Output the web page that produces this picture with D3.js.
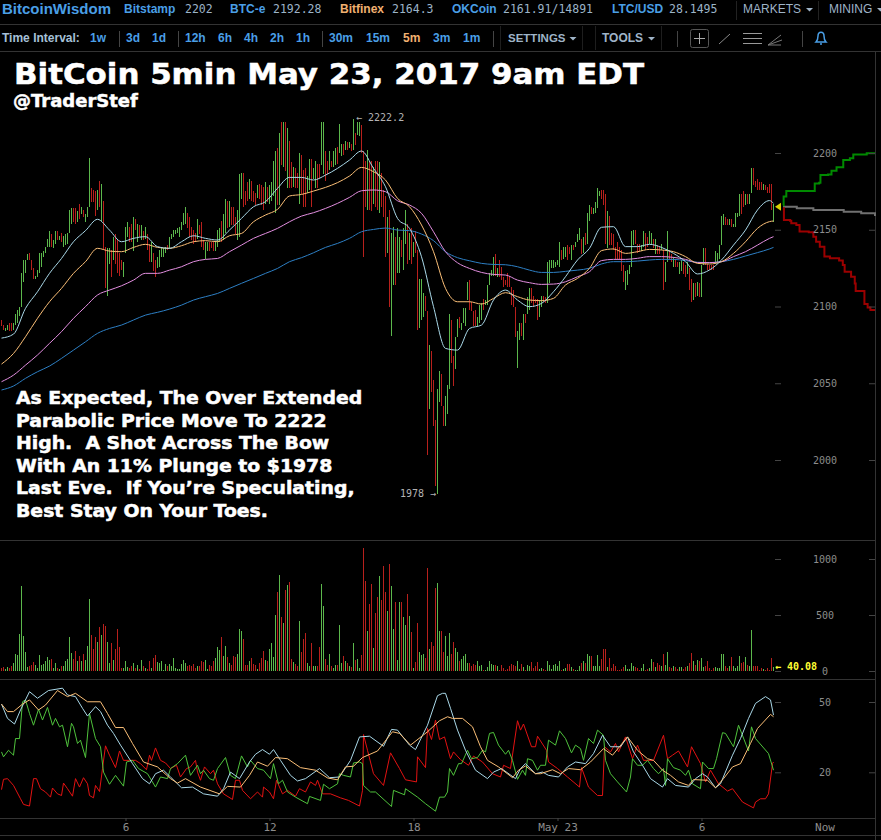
<!DOCTYPE html>
<html>
<head>
<meta charset="utf-8">
<script src="https://cdn.jsdelivr.net/npm/d3@7"></script>
<style>
body { margin: 0; background: #000; }
svg { display: block; }
text { white-space: pre; }
.mono { font-family: "DejaVu Sans Mono", monospace; }
.sans { font-family: "Liberation Sans", Arial, sans-serif; }
.big { font-family: "DejaVu Sans", Verdana, sans-serif; font-weight: bold; fill: #fff; stroke: #fff; stroke-width: 0.5px; }
.axis line { stroke: #444; }
.axis path { display: none; }
.axis text { fill: #8c8c8c; font-family: "DejaVu Sans Mono", monospace; font-size: 10px; }
</style>
</head>
<body>
<svg width="881" height="840"></svg>
<script>
// candle high / low in USD, one pair per 5min bar
var candleHigh = [
  2091,2088,2086,2088,2089,2089,2089,2095,2098,2100,2122,2130,2130,2134,2135,2130,2125,2120,2124,2135,
  2135,2136,2139,2144,2149,2147,2143,2149,2149,2146,2148,2146,2147,2148,2163,2164,2164,2164,2162,2167,
  2165,2163,2160,2165,2196.5,2177,2176,2175,2176,2182,2180,2169,2139,2138,2138,2137,2145,2147,2144,2135,
  2130,2129,2152,2155,2152,2154,2158,2157,2154,2153,2153,2149,2152,2147,2141,2142,2135,2130,2132,2137,
  2139,2138,2139,2140,2145,2147,2150,2150,2151,2152,2155,2161,2165,2161,2158,2152,2150,2148,2157,2153,
  2155,2143,2142,2142,2142,2142,2142,2142,2150,2151,2156,2160,2170,2169,2169,2165,2165,2158,2163,2186,
  2187,2187,2175,2181,2183,2182,2175,2174,2179,2180,2179,2178,2181,2178,2179,2181,2195,2201,2203,2213,
  2220,2220,2220,2216,2208,2194,2191,2190,2187,2200,2199,2189,2190,2185,2196,2196,2190,2195,2193,2193,
  2220,2220,2201,2195,2201,2195,2201,2203,2204,2219,2206,2206,2208,2207,2207,2206,2222.2,2213,2220,2220,
  2218,2201,2195,2202,2195,2195,2191,2195,2195,2194,2187,2176,2172,2158,2163,2148,2152,2145,2151,2145,
  2143,2151,2163,2154,2148,2151,2142,2149,2137,2118,2118,2109,2107,2097,2075,2071,2052,2026,2046,2058,
  2056,2035,2042,2049,2095,2091,2068,2080,2092,2093,2089,2099,2099,2116,2117,2103,2097,2098,2093,2101,
  2102,2105,2104,2114,2122,2124,2132,2134,2125,2130,2126,2119,2117,2122,2120,2113,2111,2100,2084,2089,
  2089,2095,2095,2106,2112,2112,2107,2105,2105,2104,2107,2107,2106,2129,2130,2130,2130,2129,2130,2142,
  2137,2139,2139,2140,2139,2140,2140,2142,2147,2151,2144,2145,2148,2161,2166,2165,2164,2168,2177,2175,
  2176,2176,2173,2162,2159,2148,2147,2139,2142,2139,2137,2127,2123,2124,2127,2149,2150,2150,2141,2141,
  2140,2149,2148,2145,2149,2148,2144,2144,2140,2139,2141,2137,2129,2149,2137,2134,2132,2131,2129,2129,
  2130,2129,2127,2129,2125,2118,2115,2115,2116,2115,2127,2138,2138,2128,2127,2127,2127,2136,2135,2140,
  2159,2160,2158,2157,2157,2157,2154,2161,2161,2173,2173,2175,2173,2173,2173,2190,2190,2182,2183,2181,
  2181,2180,2179,2178,2180,2180,2167
];
var candleLow = [
  2087,2085,2084,2085,2084,2084,2085,2088,2089,2094,2100,2116,2122,2130,2130,2124,2118,2118,2119,2122,
  2126,2132,2135,2139,2139,2139,2138,2141,2143,2143,2142,2139,2140,2141,2148,2154,2155,2154,2155,2157,
  2160,2158,2155,2158,2165,2168,2168,2159,2163,2165,2156,2137,2112,2107,2128,2119,2130,2128,2122,2120,
  2124,2119,2135,2145,2142,2142,2136,2150,2142,2145,2143,2143,2144,2137,2129,2129,2123,2119,2125,2126,
  2132,2132,2135,2137,2138,2144,2145,2147,2148,2145,2150,2153,2154,2151,2145,2143,2141,2142,2144,2147,
  2139,2137,2131,2136,2136,2138,2136,2136,2139,2142,2142,2143,2148,2151,2152,2153,2153,2147,2143,2145,
  2170,2165,2166,2169,2170,2169,2168,2166,2171,2170,2166,2163,2167,2168,2167,2169,2172,2161,2166,2166,
  2192,2191,2188,2177,2177,2177,2178,2177,2177,2167,2173,2165,2165,2174,2176,2165,2183,2177,2177,2183,
  2192,2186,2182,2186,2189,2191,2191,2192,2193,2200,2198,2199,2202,2202,2203,2201,2202,2205,2212,2211,
  2200,2132,2165,2163,2163,2162,2167,2165,2163,2161,2165,2158,2132,2135,2100,2081,2114,2114,2122,2122,
  2132,2124,2141,2128,2130,2128,2132,2135,2085,2086,2091,2093,2097,2003,2033,2044,2022,1983,1978,2038,
  2035,2022,2022,2030,2046,2063,2048,2059,2080,2086,2085,2089,2087,2104,2098,2097,2087,2087,2087,2089,
  2091,2098,2101,2101,2114,2120,2120,2120,2119,2119,2117,2113,2114,2113,2113,2101,2100,2080,2060,2078,
  2081,2078,2089,2095,2098,2102,2100,2102,2091,2093,2100,2103,2102,2102,2115,2125,2125,2126,2127,2126,
  2130,2131,2132,2130,2134,2130,2137,2139,2142,2143,2134,2135,2140,2141,2156,2160,2160,2161,2164,2172,
  2170,2166,2141,2138,2140,2140,2137,2131,2131,2131,2123,2116,2111,2114,2121,2126,2140,2141,2135,2136,
  2136,2139,2137,2139,2141,2140,2138,2134,2134,2134,2137,2111,2116,2129,2131,2129,2126,2126,2126,2121,
  2123,2121,2119,2121,2111,2103,2104,2106,2107,2106,2106,2127,2127,2124,2124,2124,2124,2128,2129,2131,
  2140,2153,2153,2153,2153,2152,2152,2152,2158,2159,2160,2165,2166,2167,2167,2174,2179,2178,2176,2176,
  2176,2176,2176,2174,2174,2163,2155
];
// g = up bar, r = down bar (same for candles and volume)
var candleDir = (
  "rrggrrgggg" + "ggggrrrggg" + "gggggrggrg" + "rgggggrrgr" + "grgggrrrgr" +
  "grrggrgrrr" + "rgggrrgrgr" + "grgrrgrrgg" + "gggrgggggg" + "gggrrrrrgr" +
  "rrggrrrggg" + "rggrgrrrgg" + "grrrgrrrgr" + "rrgrggggrg" + "rgrgrrgrrg" +
  "rrrggrggrr" + "ggrrgrggrg" + "grgrgrgrgg" + "rrrgrrgrrg" + "rrrgrggrgg" +
  "rggrgrgrrg" + "ggrrgrrrgg" + "rrgggrrggr" + "ggggrrrrgg" + "grgggggrgr" +
  "rrrrrrrrgg" + "rgrggrrrrg" + "grrggggggg" + "rggrrgrggg" + "rgrggrgggg" +
  "rrrgrrrrrr" + "rrgggggrrr" + "ggrrggrgrr" + "grggrrgrrg" + "grrgrrgrgr" +
  "ggrrrrrggg" + "ggrrgrgggg" + "rrgrggrrrr" + "rgrrrrg"
).split("");
var volume = [
  30,36,18,36,30,42,72,150,144,330,759,315,168,36,42,54,84,54,24,144,
  54,60,90,126,96,111,24,72,30,15,42,48,90,108,300,162,108,180,90,135,
  90,156,102,222,639,324,198,300,258,390,324,420,402,258,72,246,96,192,372,216,
  30,24,90,36,30,48,72,24,54,15,96,42,24,18,90,24,120,144,78,72,
  90,12,60,42,60,45,114,30,18,15,60,96,72,42,54,48,66,30,42,48,
  90,84,96,15,54,48,90,114,216,186,300,132,222,126,72,54,132,126,150,372,
  354,282,54,54,90,120,66,54,18,72,120,180,96,90,198,252,126,504,708,855,
  480,432,720,765,798,108,84,60,48,444,168,282,336,72,42,246,42,42,42,216,
  774,576,108,54,150,48,24,54,54,414,72,132,90,72,42,36,252,102,108,30,
  144,1095,804,360,600,774,204,516,660,846,636,939,708,540,957,756,375,615,96,612,
  615,486,414,687,495,345,24,78,426,168,144,150,120,924,198,255,225,744,783,360,
  354,168,315,135,336,156,255,204,174,90,108,138,156,72,72,42,60,54,90,42,
  54,6,6,36,90,66,54,54,42,6,54,30,6,18,42,66,54,48,90,18,
  66,36,12,54,42,78,24,48,78,18,24,18,12,90,54,15,54,60,45,90,
  12,15,30,60,60,36,18,12,12,42,72,90,72,150,138,132,42,42,144,48,
  108,192,192,36,120,30,66,42,12,12,18,36,54,18,18,72,42,36,30,12,
  24,66,6,18,30,108,84,36,75,54,48,156,54,174,36,30,45,36,18,36,
  36,15,36,45,75,165,90,54,102,90,120,36,45,90,24,12,30,36,24,30,
  150,150,42,30,42,126,42,24,42,132,72,78,126,54,42,366,48,42,48,12,
  24,18,12,30,12,120,40.08
];

// moving averages, sampled every 6th bar (and the last bar)
var maBars = d3.range(0, 385, 6).concat([386]);
var maWhite = [2079.4,2082,2098.8,2109.6,2121.6,2131.3,2142.2,2149.4,2156.8,2149.8,2142.2,2144.4,2145.5,2139,2137.9,2142.2,2146.1,2144.4,2143.3,2149.8,2157.4,2165,2168.3,2177,2184.1,
  2184.1,2182.4,2185.6,2190,2195.4,2201.3,2190,2178,2157.4,2150.9,2132.4,2099.9,2072.7,2071.6,2085.7,2087.9,2104.2,2110.7,2104.2,2099.9,2102,2109.6,2119.4,2130.3,
  2137.9,2151.6,2152,2139,2139,2140.5,2138.5,2134.6,2129.2,2121.2,2123.8,2130.3,2140,2149.8,2162.9,2169,2167.2];
var maOrange = [2062.5,2069.4,2080.3,2092.3,2103.1,2111.8,2121.6,2129.2,2137.9,2136.1,2135.7,2138.5,2140.5,2138.5,2137.9,2139.6,2142.2,2142.9,2142.2,2146.1,2147.6,2155.2,2159.6,2163.3,2172,
  2173,2175.2,2177.6,2180.7,2185,2190.6,2187.8,2182.4,2170.4,2165,2153.1,2135.7,2111.8,2103.1,2103.1,2101.6,2105.3,2109,2106.4,2104.2,2103.8,2105.3,2114,2118.3,
  2124.9,2136.4,2137.5,2134.6,2135.7,2137.2,2136.8,2135.7,2132.5,2128.1,2127.7,2129.2,2134.6,2142.2,2150.9,2155.3,2155.7];
var maPink = [2051,2055.3,2061.8,2068.4,2076,2083.6,2092.3,2099.9,2107.5,2110.7,2113.5,2117.2,2121.6,2121.6,2123.7,2125.9,2129.2,2130.7,2131.3,2135.7,2140,2144.4,2147.6,2150.9,2155.2,
  2158.9,2161.1,2163.9,2167.2,2171.1,2175.4,2175.9,2174.8,2168.9,2166.1,2160.7,2148.7,2135.7,2128.5,2124.8,2122.2,2120.9,2120.5,2117.2,2115.5,2114.4,2114.6,2116.1,2119.4,
  2122.7,2129.9,2130.7,2130.7,2131.4,2132.5,2132.5,2132,2130.7,2128.6,2128.6,2129.2,2132.5,2135.7,2140,2144.4,2145.5];
var maBlue = [2045.6,2048.2,2053.2,2057.5,2061.2,2066.2,2071.6,2077,2082.5,2085.7,2087.9,2091.2,2094.4,2096.2,2098.3,2100.9,2104.2,2106.4,2108.5,2111.8,2115.1,2118.3,2121.6,2124.8,2129.2,
  2131.8,2135,2138.5,2141.1,2144.4,2148.7,2150.2,2151.1,2149.8,2149.4,2147.2,2142.9,2135.7,2131.8,2129.8,2128.1,2127.4,2127.2,2125.9,2123.7,2122.2,2122.2,2122.9,2123.7,
  2124.9,2127.7,2129.2,2129.2,2129.6,2130.3,2130.7,2130.7,2129.9,2128.8,2128.6,2129.2,2130.7,2132.9,2135.1,2137.5,2138.5];

// order book depth, x = share of the depth panel (0-100), y = price
var depthAskX = [0,0.7,3.6,32.7,34.5,39.3,40.7,49,52.7,58.2,65.5,72.7,76.4,91,100];
var depthAsk = [2166,2171.6,2175.3,2175.3,2180.2,2180.7,2185.7,2186,2188.5,2190.7,2195.5,2196.5,2199.1,2199.8,2199.8];
var depthBidX = [0,1,7.6,9,14.5,18,28,33,36,40,45,51,61,65,67,74,78,79,87,88.5,92,95,100];
var depthBid = [2164,2156.4,2155.9,2154.2,2153.1,2148.8,2148.3,2145.5,2142.2,2139,2132.5,2131.4,2129.9,2127,2122.7,2119.4,2115,2110.1,2110.1,2101.6,2099.4,2097.7,2097.7];
var depthMidX = [0,15,33,66,85,100];
var depthMid = [2165,2164,2162.9,2161.8,2160.7,2159];

// lower panel, vertices as [bar, value]
var dmiRed = [[0,12.6],[1,17],[3,17.3],[6,14.4],[9.5,8.7],[11,6.3],[14,5.6],[16,17.3],[17.5,17.3],[19.5,13],[22,11.6],[24.5,9.4],[25.5,13.3],[28,10.8],[30,10.1],[31,15.4],[33,13],[35.5,9.8],[37,17.3],[39,13.7],[41,17.7],[43,15.1],[44,10.1],[46,9.1],[47,14.4],[49,11.8],[50.5,21.6],[52,31.3],[54,27.3],[57,22],[59,29.1],[61,25.1],[64,25.1],[67,25.1],[69.5,23.7],[72.5,21.1],[74,27.3],[75,25.1],[77,30.4],[79.5,25.1],[82,24],[84.5,21.6],[87.5,23],[89.5,18],[92.5,21.6],[94.5,22.3],[97,25.1],[98,20.1],[99.5,16.6],[101.5,22.3],[104.5,19.4],[106,20.9],[108,15.1],[111,10.8],[115.5,8.4],[117,16.6],[119,16.6],[120.5,12.3],[124.5,8.7],[128,11.6],[130.5,9.4],[131,13.7],[134,11.6],[136,8.7],[137.5,16.6],[140.5,10.8],[143,12.3],[147,9.8],[149,13],[152,11.6],[154.5,15.9],[157,14.4],[158,16.6],[160.5,10.8],[164.5,10.8],[169.5,9.1],[173.5,8],[179,5.6],[180.5,12.3],[181,36.1],[183,29.4],[186,19.4],[191,14.4],[194.5,28.3],[199,21.6],[202,16.8],[207.5,15.9],[208,26.6],[212,22],[213,38.7],[215,34],[217,42.3],[219,34],
  [221.5,35.1],[224.5,25.8],[226,28.7],[229.5,25.4],[233.5,23],[236,26.9],[240.5,24.4],[245.5,19.4],[249.5,18],[251,23],[254.5,21.6],[258,42],[259.5,38],[261,40.6],[265,30.9],[267,30.9],[268,35.4],[272.5,29.4],[273.5,24.4],[278,21.6],[283,18],[289,13.7],[290,22],[293.5,13.7],[298,10.1],[300.5,10.1],[301.5,30.9],[304.5,28.7],[307,32.3],[308.5,28.7],[312,35.1],[315.5,25.8],[318,31.6],[321,25.1],[326,25.1],[331,35.8],[333,25.8],[335.5,27.3],[338.5,29.1],[343,22.3],[345,30.9],[349.5,23.7],[352,15.9],[354.5,20.9],[358.5,15.1],[363,12],[365.5,13],[370.5,7.3],[376,4.8],[377,7.3],[379.5,8.7],[382,8.7],[383.5,10.8],[385.5,23.7],[386,24.4]];
var dmiGreen = [[0,28.7],[1,26.6],[3.5,29.4],[6,27.3],[7,34.4],[9,34.4],[10.5,50.1],[12,50.9],[14,45.1],[16,40.1],[18.5,46.9],[20.5,42.3],[23,47.7],[25.5,40.1],[27,43],[29,39.4],[30.5,40.1],[33,30.9],[35,40.9],[36,39.4],[38,32.3],[39.5,33.7],[42,26.3],[44,45.1],[47,34.4],[49.5,30.9],[51,20.1],[54,14.9],[57,18.7],[61,14.1],[62.5,24.4],[65.5,25.1],[68.5,21.6],[73,19.4],[77,13.7],[79.5,18],[83,17.3],[84.5,21.6],[88,23.7],[92,27.3],[94.5,18.7],[98,23],[99.5,19.4],[101,20.9],[104,17.3],[106,16.6],[108,21.6],[112,26.3],[114.5,18.7],[117,17.3],[120,27],[123,22.3],[124.5,25.1],[128,21.6],[131,20.9],[134.5,17.3],[136,23.7],[138.5,15.1],[140.5,16.6],[143,11.6],[147,9.4],[153,6.6],[154,9.7],[159.5,8],[161,14.9],[164,13],[168,15.1],[169,19.4],[171,18.7],[174.5,18],[176,24],[179,24.4],[180.5,23.7],[181,14.4],[184.5,11.6],[187,11.6],[195,5.4],[196,12.3],[201.5,10.4],[202,13],[208,9.4],[212,6.6],[217,3.4],[219,9.4],
  [221.5,9.4],[223,11.6],[224,21.6],[226,18.7],[228.5,23.7],[230,23.7],[233,29.4],[235,25.8],[238,26.3],[240.5,29.4],[242,28.7],[244,36.6],[246,37],[248.5,31.6],[252,27.7],[253.5,29.4],[255.5,25.1],[258,17],[260.5,20.9],[262,18.7],[263,25.8],[265.5,25.1],[268,20.9],[269.5,23],[272,23],[273.5,33.7],[277,31.6],[279,37.7],[282,34.4],[285,28.3],[287,31.6],[289.5,30.1],[291,25.1],[293.5,34.4],[296,32.3],[298,38],[301,35.8],[302,25.1],[304.5,19.4],[308,15.9],[312.5,11.6],[314.5,18],[315.5,25.8],[318,23],[320.5,23],[323,25.1],[326,21.6],[328.5,19.4],[331,21.6],[332,14.4],[333,25.8],[336,22],[339.5,20.9],[342,18.7],[343.5,20.9],[345.5,15.1],[349.5,13],[350.5,24.4],[353.5,21.6],[356,21.6],[357.5,25.8],[360.5,36.9],[362,36.6],[366,30.9],[368.5,40.1],[373.5,29.1],[375,39.4],[377,34.4],[383.5,28],[386,20.9]];
var dmiWhite = [[0,49.1],[3,43],[6.5,40.6],[9.5,46.6],[14,54.4],[18,51.6],[23.5,54.9],[30.5,55.9],[33,53],[37,52.3],[40.5,47.3],[43,44],[47,48],[49.5,45.9],[53,40.1],[56,36.6],[59.5,31.6],[65.5,23.7],[70.5,17.3],[74,15.1],[77,19.4],[81,20.9],[84.5,18],[90,13.4],[95.5,13.7],[101,10.8],[108,9.8],[111,13],[114.5,20.1],[119,17.3],[124,24.4],[127,27.7],[130.5,29.7],[134,27.7],[136,29.7],[139.5,25.1],[144.5,18.7],[148,16.3],[152,17.3],[159,21.6],[164,17.7],[169,18],[174.5,25.1],[179,35.1],[184,35.4],[191,31.1],[195,38.3],[198,38],[204,31.6],[207,29.7],[213,40.1],[218,52.7],
  [220.5,53.7],[222,53.7],[224.5,47.3],[228,38],[232,29.4],[237,20.9],[243,17.3],[246,20.1],[250,21.6],[257,17.3],[259.5,21.6],[262,23.7],[267,19.4],[270.5,20.1],[273.5,18.7],[278.5,18],[283,22.3],[287,24.4],[292,23.7],[296,28],[300.5,35.8],[304.5,30.9],[309.5,30.9],[313,35.1],[316,28.7],[320.5,23],[324.5,17.3],[330.5,13.7],[333,17.3],[337,14.4],[343.5,13.7],[347,17.3],[350.5,19.4],[353,18],[357,13.4],[359.5,15.1],[365.5,27.3],[369.5,34.4],[373.5,43],[377,49.4],[382,52.3],[384.5,50.9],[386,44.4]];
var dmiOrange = [[0,49.1],[3,45.9],[6,45.9],[10.5,49.1],[14,50.9],[18.5,46.6],[22,48.7],[28,54.9],[33,52.3],[37,53.7],[43,50.1],[49.5,50.1],[53,45.1],[57,39.1],[61,39.1],[65.5,32.3],[71,24.4],[78,22.3],[84.5,17.3],[88,15.4],[92,17.3],[99.5,13.7],[109,10.8],[113,14],[119.5,13.7],[124,18.7],[128,24.4],[133,22.6],[137,26.3],[143,25.8],[149.5,22],[157,20.9],[163,17.6],[168,16.8],[172,22.3],[176,22.6],[180.5,26.3],[188,29.1],[195.5,37.3],[199,36.6],[204.5,31.6],[213,37.3],[219,42],
  [223,43.7],[225.5,43],[230.5,43],[235.5,39.4],[239.5,30.9],[243,25.1],[248.5,22.3],[255.5,17.7],[258.5,20.9],[262,22.7],[267,19.4],[269.5,19.4],[275.5,21.1],[279.5,19.4],[283.5,21.6],[289.5,21.1],[294.5,24.4],[301,30.1],[305.5,27.3],[313,35.1],[318,29.4],[323,25.8],[326,25.1],[330.5,20.9],[334.5,18.7],[338.5,15.9],[343.5,14.4],[346,16.9],[353,16.6],[357,13.4],[361,17.3],[365.5,22.3],[369.5,23.7],[374.5,32.3],[378,38.7],[384.5,44.7],[386,43.7]];

var priceTicks = [2200, 2150, 2100, 2050, 2000];
var volTicks = [1000, 500, 0];
var dmiTicks = [50, 20];
var timeTickBars = [62, 134, 206, 278, 350];
var timeTickLabels = ["6", "12", "18", "May 23", "6"];

var titleText = "BitCoin 5min May 23, 2017 9am EDT";
var handleText = "@TraderStef";
var noteLines = [
  "As Expected, The Over Extended",
  "Parabolic Price Move To 2222",
  "High.  A Shot Across The Bow",
  "With An 11% Plunge to $1978",
  "Last Eve.  If You\u2019re Speculating,",
  "Best Stay On Your Toes."
];

var width = 881;
var height = 840;
var svg = d3.select("svg");

var green = "#5cb84c", red = "#b8201c";

// scales
var xBar = d3.scaleLinear().domain([0, 386]).range([1, 773]);
var yPrice = d3.scaleLinear().domain([2000, 2200]).range([460, 153]);
var yVol = d3.scaleLinear().domain([0, 1000]).range([671, 559]);
var yDmi = d3.scaleLinear().domain([20, 50]).range([772.3, 702]);
var xDepth = d3.scaleLinear().domain([0, 100]).range([783, 875]);

// frame lines
var frame = svg.append("g").attr("stroke", "#333").attr("shape-rendering", "crispEdges");
[24.5, 51.5, 540.5, 679.5, 818.5, 835.5].forEach(function (y) {
  frame.append("line").attr("x1", 0).attr("x2", (y > 60 && y < 830) ? 875 : width).attr("y1", y).attr("y2", y);
});
frame.append("line").attr("x1", 875.5).attr("x2", 875.5).attr("y1", 52).attr("y2", height);

// candles
svg.append("g").selectAll("rect").data(candleHigh).enter().append("rect")
  .attr("x", function (d, i) { return xBar(i); })
  .attr("y", function (d) { return yPrice(d); })
  .attr("width", 1)
  .attr("height", function (d, i) { return yPrice(candleLow[i]) - yPrice(d); })
  .attr("fill", function (d, i) { return candleDir[i] == "g" ? green : red; })
  .attr("shape-rendering", "crispEdges");

// moving averages
var maLine = d3.line().curve(d3.curveMonotoneX)
  .x(function (d, i) { return xBar(maBars[i]) + 0.5; })
  .y(function (d) { return yPrice(d); });
[[maBlue, "#2d7fc4"], [maPink, "#e38ee0"], [maOrange, "#fbbf77"], [maWhite, "#a9d8e8"]].forEach(function (s) {
  svg.append("path").attr("d", maLine(s[0])).attr("fill", "none").attr("stroke", s[1]).attr("stroke-width", 1);
});

// depth
function depthPath(xs, ys, color) {
  var line = d3.line().curve(d3.curveStepAfter)
    .x(function (d, i) { return xDepth(xs[i]); })
    .y(function (d) { return yPrice(d); });
  svg.append("path").attr("d", line(ys)).attr("fill", "none").attr("stroke", color).attr("stroke-width", 2);
}
depthPath(depthMidX, depthMid, "#707070");
depthPath(depthAskX, depthAsk, "#008a00");
depthPath(depthBidX, depthBid, "#9c0000");

// last price marker
svg.append("path")
  .attr("d", "M0,0L6,-4L6,4Z")
  .attr("transform", "translate(775," + yPrice(2165) + ")")
  .attr("fill", "#d8d000");

// volume
svg.append("g").selectAll("rect").data(volume).enter().append("rect")
  .attr("x", function (d, i) { return xBar(i); })
  .attr("y", function (d) { return yVol(d); })
  .attr("width", 1)
  .attr("height", function (d) { return yVol(0) - yVol(d); })
  .attr("fill", function (d, i) { return candleDir[i] == "g" ? green : red; })
  .attr("shape-rendering", "crispEdges");

// lower panel lines
var dmiLine = d3.line()
  .x(function (d) { return xBar(d[0]) + 0.5; })
  .y(function (d) { return yDmi(d[1]); });
[[dmiRed, "#e31212"], [dmiGreen, "#4fc23c"], [dmiWhite, "#a9d8e8"], [dmiOrange, "#fbbf77"]].forEach(function (s) {
  svg.append("path").attr("d", dmiLine(s[0])).attr("fill", "none").attr("stroke", s[1]).attr("stroke-width", 1);
});

// right hand axes, label sits in the middle of the gutter
function rightAxis(scale, ticks) {
  svg.append("g").attr("class", "axis").attr("transform", "translate(775,0)")
    .call(d3.axisRight(scale).tickValues(ticks).tickSize(6).tickFormat(d3.format("d")))
    .selectAll("text").attr("x", 50).attr("text-anchor", "middle");
  svg.append("g").attr("class", "axis").attr("transform", "translate(869,0)")
    .call(d3.axisRight(scale).tickValues(ticks).tickSize(6).tickFormat(""));
}
rightAxis(yPrice, priceTicks);
rightAxis(yVol, volTicks);
rightAxis(yDmi, dmiTicks);

// time axis
var xAxis = d3.axisBottom(d3.scaleLinear().domain(xBar.domain()).range([1.5, 773.5]))
  .tickValues(timeTickBars)
  .tickSize(3)
  .tickPadding(2)
  .tickFormat(function (d, i) { return timeTickLabels[i]; });
var xAxisG = svg.append("g").attr("class", "axis").attr("transform", "translate(0,818)").call(xAxis);
xAxisG.selectAll("text").style("font-size", "11px");
svg.append("text").attr("class", "mono").attr("x", 825).attr("y", 831)
  .attr("text-anchor", "middle").attr("fill", "#8c8c8c").style("font-size", "11px").text("Now");

// price labels on the chart
svg.append("text").attr("class", "mono").attr("x", xBar(176) + 3).attr("y", yPrice(2222.2) + 2)
  .attr("fill", "#b4b4b4").style("font-size", "10px").text("\u2190 2222.2");
svg.append("text").attr("class", "mono").attr("x", xBar(218) - 1).attr("y", yPrice(1978) + 3)
  .attr("text-anchor", "end").attr("fill", "#b4b4b4").style("font-size", "10px").text("1978 \u2192");
svg.append("text").attr("class", "mono").attr("x", 775).attr("y", 670)
  .attr("fill", "#ffff33").style("font-size", "10px").style("font-weight", "bold").text("\u2190 40.08");

// top bars
var blue = "#4a9fe6", grey = "#9fb4c8", orange = "#f0b070", num = "#9cb4c8";
var navTop = [
  ["BitcoinWisdom", 2, blue, 15, "sans", "bold"],
  ["Bitstamp", 124, blue, 12, "sans", "bold"],
  ["2202", 185, num, 11.5, "mono", "normal"],
  ["BTC-e", 230, blue, 12, "sans", "bold"],
  ["2192.28", 273, num, 11.5, "mono", "normal"],
  ["Bitfinex", 340, orange, 12, "sans", "bold"],
  ["2164.3", 392, num, 11.5, "mono", "normal"],
  ["OKCoin", 452, blue, 12, "sans", "bold"],
  ["2161.91/14891", 503, num, 11.5, "mono", "normal"],
  ["LTC/USD", 612, blue, 12, "sans", "bold"],
  ["28.1495", 669, num, 11.5, "mono", "normal"],
  ["MARKETS", 743, grey, 12, "sans", "normal"],
  ["MINING", 829, grey, 12, "sans", "normal"]
];
navTop.forEach(function (d) {
  svg.append("text").attr("class", d[4]).attr("x", d[1]).attr("y", d[3] == 15 ? 14 : 13)
    .attr("fill", d[2]).style("font-size", d[3] + "px").style("font-weight", d[5]).text(d[0]);
});

var navRow = [
  ["Time Interval:", 2, "#a6c0d8"], ["1w", 90, blue], ["3d", 126, blue], ["1d", 152, blue],
  ["12h", 185, blue], ["6h", 218, blue], ["4h", 244, blue], ["2h", 270, blue], ["1h", 296, blue],
  ["30m", 329, blue], ["15m", 366, blue], ["5m", 403, orange], ["3m", 433, blue], ["1m", 463, blue],
  ["SETTINGS", 508, grey], ["TOOLS", 602, grey]
];
navRow.forEach(function (d) {
  svg.append("text").attr("class", "sans").attr("x", d[1]).attr("y", 42)
    .attr("fill", d[2]).style("font-size", d[0].length == 8 ? "11.5px" : "12px").style("font-weight", "bold").text(d[0]);
});

var seps = svg.append("g").attr("stroke", "#444").attr("shape-rendering", "crispEdges");
[119.5, 178.5, 322.5, 493.5, 677.5, 802.5].forEach(function (x) {
  seps.append("line").attr("x1", x).attr("x2", x).attr("y1", 31).attr("y2", 47);
});
[736.5, 818.5].forEach(function (x) {
  seps.append("line").attr("x1", x).attr("x2", x).attr("y1", 1).attr("y2", 20).attr("stroke", "#222");
});
[500.5, 582.5, 595.5, 661.5].forEach(function (x) {
  seps.append("line").attr("x1", x).attr("x2", x).attr("y1", 26).attr("y2", 50).attr("stroke", "#1e1e1e");
});

// carets next to the menus
[[806, 8], [877, 8], [569.5, 37], [648, 37]].forEach(function (p) {
  svg.append("path").attr("d", "M" + p[0] + "," + p[1] + "h7l-3.5,3.5z").attr("fill", grey);
});

// drawing tools icons
svg.append("rect").attr("x", 690.5).attr("y", 29.5).attr("width", 18).attr("height", 18).attr("rx", 2)
  .attr("fill", "none").attr("stroke", "#555");
svg.append("path").attr("d", "M699.5,33v11M694,38.5h11").attr("stroke", "#aaa").attr("fill", "none");
svg.append("path").attr("d", "M719,44L730,34").attr("stroke", "#888").attr("fill", "none");
svg.append("path").attr("d", "M743,33.5h19M743,38.5h19M743,43.5h19").attr("stroke", "#999").attr("fill", "none");
svg.append("path").attr("d", "M768,45L781,35M768,45L782,40M768,45L781,45").attr("stroke", "#777").attr("fill", "none");
svg.append("path").attr("d", "M816,42c2,-2 2,-3 2,-6c0,-5 6,-5 6,0c0,3 0,4 2,6zM820,44h2").attr("stroke", blue)
  .attr("stroke-width", 1.5).attr("fill", "none");

// big annotation text, stretched a bit wider than DejaVu Bold to fit the original
svg.append("text").attr("class", "big").attr("x", 14).attr("y", 84).style("font-size", "28px")
  .attr("textLength", 630).attr("lengthAdjust", "spacingAndGlyphs").text(titleText);
svg.append("text").attr("class", "big").attr("x", 13).attr("y", 107).style("font-size", "18px").text(handleText);
svg.selectAll(".note").data(noteLines).enter().append("text")
  .attr("class", "big note")
  .attr("x", 16)
  .attr("y", function (d, i) { return 404 + i * 22.5; })
  .style("font-size", "17px")
  .text(function (d) { return d; })
  .attr("lengthAdjust", "spacingAndGlyphs")
  .attr("textLength", function () { return this.getComputedTextLength() * 1.108; });
</script>
</body>
</html>
